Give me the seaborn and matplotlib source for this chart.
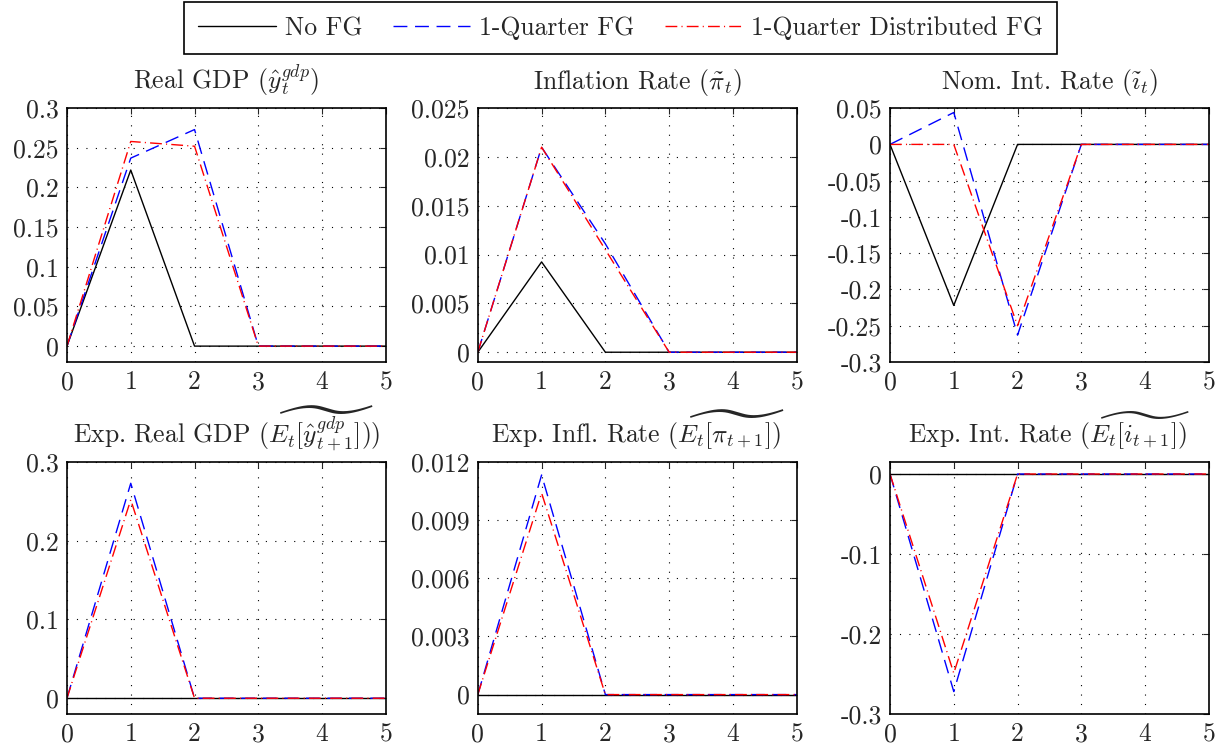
import matplotlib
matplotlib.use('Agg')
import matplotlib.pyplot as plt
import matplotlib.ticker as mticker
import seaborn as sns
import pandas as pd
import numpy as np

# quarters after the shock
quarters = [0, 1, 2, 3, 4, 5]

# series: No FG, 1-Quarter FG, 1-Quarter Distributed FG
gdp_nofg = [0, 0.222, 0, 0, 0, 0]
gdp_fg = [0, 0.237, 0.273, 0, 0, 0]
gdp_dist = [0, 0.258, 0.252, 0, 0, 0]

infl_nofg = [0, 0.00925, 0, 0, 0, 0]
infl_fg = [0, 0.0210, 0.0111, 0, 0, 0]
infl_dist = [0, 0.0210, 0.0105, 0, 0, 0]

rate_nofg = [0, -0.222, 0, 0, 0, 0]
rate_fg = [0, 0.044, -0.263, 0, 0, 0]
rate_dist = [0, 0, -0.250, 0, 0, 0]

egdp_nofg = [0, 0, 0, 0, 0, 0]
egdp_fg = [0, 0.273, 0, 0, 0, 0]
egdp_dist = [0, 0.252, 0, 0, 0, 0]

einfl_nofg = [0, 0, 0, 0, 0, 0]
einfl_fg = [0, 0.01133, 0, 0, 0, 0]
einfl_dist = [0, 0.01040, 0, 0, 0, 0]

erate_nofg = [0, 0, 0, 0, 0, 0]
erate_fg = [0, -0.272, 0, 0, 0, 0]
erate_dist = [0, -0.249, 0, 0, 0, 0]

labels = ["No FG", "1-Quarter FG", "1-Quarter Distributed FG"]

titles = [
    r"Real GDP ($\hat{y}_t^{gdp}$)",
    r"Inflation Rate ($\tilde{\pi}_t$)",
    r"Nom. Int. Rate ($\tilde{\imath}_t$)",
    r"Exp. Real GDP ($\widetilde{E_t[\hat{y}_{t+1}^{gdp}]}$))",
    r"Exp. Infl. Rate ($\widetilde{E_t[\pi_{t+1}]}$)",
    r"Exp. Int. Rate ($\widetilde{E_t[i_{t+1}]}$)",
]

panels = [
    (gdp_nofg, gdp_fg, gdp_dist),
    (infl_nofg, infl_fg, infl_dist),
    (rate_nofg, rate_fg, rate_dist),
    (egdp_nofg, egdp_fg, egdp_dist),
    (einfl_nofg, einfl_fg, einfl_dist),
    (erate_nofg, erate_fg, erate_dist),
]

ylims = [(-0.02, 0.3), (-0.001, 0.025), (-0.3, 0.05),
         (-0.02, 0.3), (-0.001, 0.012), (-0.3, 0.015)]
yticks = [
    [0, 0.05, 0.1, 0.15, 0.2, 0.25, 0.3],
    [0, 0.005, 0.01, 0.015, 0.02, 0.025],
    [-0.3, -0.25, -0.2, -0.15, -0.1, -0.05, 0, 0.05],
    [0, 0.1, 0.2, 0.3],
    [0, 0.003, 0.006, 0.009, 0.012],
    [-0.3, -0.2, -0.1, 0],
]

sns.set_style("white")
plt.rcParams['font.family'] = ['cmr10', 'DejaVu Serif']
plt.rcParams['mathtext.fontset'] = 'cm'
plt.rcParams['axes.unicode_minus'] = False
plt.rcParams['axes.formatter.use_mathtext'] = False
plt.rcParams['lines.scale_dashes'] = False

colors = ["black", "blue", "red"]
styles = ["-", (0, (10, 5.5)), (0, (8.5, 3, 0.8, 3))]

fig = plt.figure(figsize=(12.22, 7.51), dpi=100)
lefts = [0.0548, 0.391, 0.7283]
bottoms = [0.518, 0.0493]
heights = [0.338, 0.3355]

handles = []
for i, (series, title) in enumerate(zip(panels, titles)):
    r, c = divmod(i, 3)
    ax = fig.add_axes([lefts[c], bottoms[r], 0.261, heights[r]])
    for k, vals in enumerate(series):
        df = pd.DataFrame({"q": quarters, "v": vals})
        sns.lineplot(data=df, x="q", y="v", ax=ax, color=colors[k],
                     linestyle=styles[k], linewidth=1.0, legend=False)
    if i == 0:
        handles = ax.get_lines()[:3]
    ax.set_xlim(0, 5)
    ax.set_ylim(*ylims[i])
    ax.set_xticks(quarters)
    ax.set_yticks(yticks[i])
    ax.yaxis.set_major_formatter(mticker.FuncFormatter(lambda v, p: "%g" % round(v, 6)))
    ax.set_xlabel("")
    ax.set_ylabel("")
    ax.grid(True, color="black", linestyle=(0, (0.8, 6)), linewidth=0.8)
    ax.tick_params(direction="in", length=4, labelsize=18.5, pad=6,
                   top=True, right=True)
    for s in ax.spines.values():
        s.set_linewidth(1.2)
        s.set_color("black")
    ax.set_title(title, fontsize=18.5, pad=14)

leg = fig.legend(handles, labels, loc="upper center", bbox_to_anchor=(0.508, 0.997),
                 ncol=3, fontsize=18.5, frameon=True, fancybox=False,
                 edgecolor="black", framealpha=1, handlelength=3.0,
                 columnspacing=1.2, handletextpad=0.35, borderpad=0.55,
                 borderaxespad=0)
leg.get_frame().set_linewidth(1.2)

fig.savefig("out.png", dpi=100)
